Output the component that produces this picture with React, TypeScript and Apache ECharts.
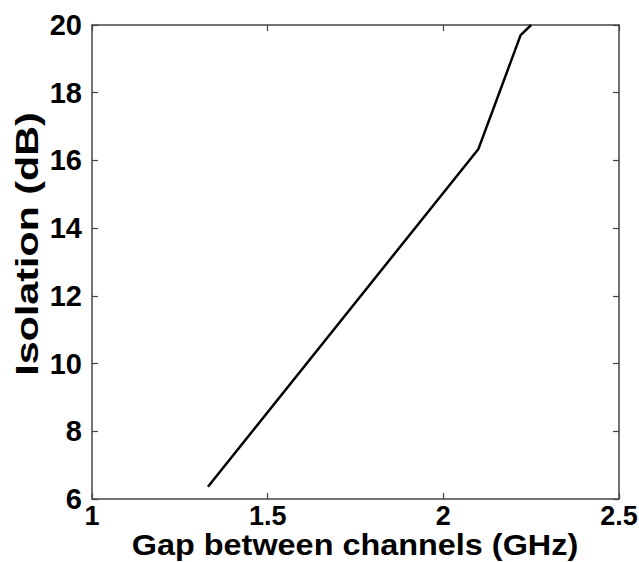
import React, { useEffect, useRef } from "react";
import * as echarts from "echarts";

const gapGHz = [1.33, 2.1, 2.22, 2.25];
const isolationDb = [6.36, 16.34, 19.7, 20];
const xTicks = { min: 1, max: 2.5, interval: 0.5 };
const yTicks = { min: 6, max: 20, interval: 2 };
const xTitle = "Gap between channels (GHz)";
const yTitle = "Isolation (dB)";

export default function App() {
  const ref = useRef<HTMLDivElement>(null);
  useEffect(() => {
    if (!ref.current) return;
    const chart = echarts.init(ref.current, null, { renderer: "svg" });
    const font = "Liberation Sans, Arial, sans-serif";
    const axisLine = { show: true, lineStyle: { color: "#444", width: 1.5 } };
    const tick = { show: true, inside: true, length: 6, lineStyle: { color: "#444", width: 1.2 } };
    const labelStyle = { color: "#000", fontSize: 29, fontWeight: "bold" as const, fontFamily: font };
    chart.setOption({
      animation: false,
      backgroundColor: "#fff",
      grid: { left: 92, top: 25, width: 527, height: 474, outerBoundsMode: "none", containLabel: false },
      graphic: [
        {
          type: "text",
          x: 27,
          y: 244,
          rotation: Math.PI / 2,
          scaleX: 1.33,
          style: {
            text: yTitle,
            fontSize: 31,
            fontWeight: "bold",
            fontFamily: font,
            fill: "#000",
            align: "center",
            verticalAlign: "middle",
          },
        },
        {
          type: "text",
          x: 355,
          y: 545,
          scaleX: 1.08,
          style: {
            text: xTitle,
            fontSize: 30,
            lineHeight: 28,
            fontWeight: "bold",
            fontFamily: font,
            fill: "#000",
            align: "center",
            verticalAlign: "middle",
          },
        },
      ],
      xAxis: [
        {
          type: "value",
          ...xTicks,
          position: "bottom",
          axisLine,
          axisTick: tick,
          splitLine: { show: false },
          axisLabel: { ...labelStyle, fontSize: 27, lineHeight: 22, margin: 6, formatter: (v: number) => String(v) },
        },
        {
          type: "value",
          ...xTicks,
          position: "top",
          axisLine,
          axisTick: tick,
          splitLine: { show: false },
          axisLabel: { show: false },
        },
      ],
      yAxis: [
        {
          type: "value",
          ...yTicks,
          position: "left",
          axisLine,
          axisTick: tick,
          splitLine: { show: false },
          axisLabel: { ...labelStyle, margin: 10 },
        },
        {
          type: "value",
          ...yTicks,
          position: "right",
          axisLine,
          axisTick: tick,
          splitLine: { show: false },
          axisLabel: { show: false },
        },
      ],
      series: [
        {
          type: "line",
          data: gapGHz.map((x, i) => [x, isolationDb[i]]),
          showSymbol: false,
          lineStyle: { color: "#000", width: 2.5 },
          clip: true,
        },
      ],
    });
    return () => chart.dispose();
  }, []);
  return (
    <div
      ref={ref}
      style={{ position: "absolute", left: 0, top: 0, width: 639, height: 562, background: "#fff" }}
    />
  );
}
